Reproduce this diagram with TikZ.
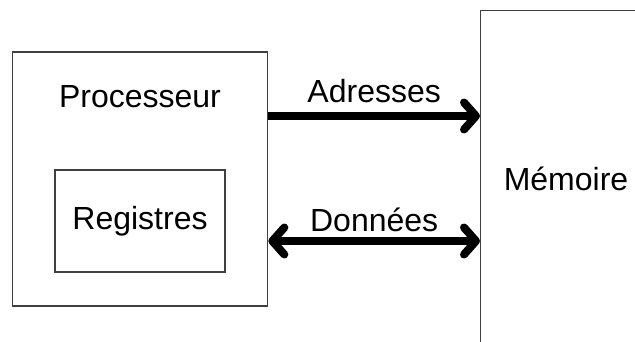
\documentclass[tikz,border=0pt]{standalone}
\usepackage{fontspec}
\setmainfont{Liberation Sans}
\usetikzlibrary{arrows.meta,positioning,calc}
\tikzset{boite/.style={draw=black!75,line width=1.2pt},
  bus/.style={line width=8pt},
  pointe/.tip={Straight Barb[length=12pt,width=27pt,round]}}

\begin{document}
\begin{tikzpicture}[x=1pt,y=1pt,font=\fontsize{32}{38}\selectfont]
\useasboundingbox (0,0) rectangle (635,341);
\node[boite,minimum width=255.5pt,minimum height=254pt] (proc) at (140,162) {};
\node[anchor=base] (proctxt) at (140,234) {Processeur};
\node[boite,minimum width=170pt,minimum height=102pt] (reg) at (140,120) {Registres};
\node[boite,anchor=north west,minimum width=220pt,minimum height=420pt] (mem) at (480,331) {};
\node[anchor=base] (memtxt) at (566,151) {Mémoire};
% bus d'adresses et bus de donnees
\draw[bus,-pointe] ($(proc.east)+(0,63)$) -- ($(mem.west |- proc.east)+(0,63)$)
  node[midway,anchor=base,yshift=14pt] (adr) {Adresses};
\draw[bus,pointe-pointe] ($(proc.east)+(0,-62)$) -- ($(mem.west |- proc.east)+(0,-62)$)
  node[midway,anchor=base,yshift=10pt] (don) {Données};
\end{tikzpicture}
\end{document}
